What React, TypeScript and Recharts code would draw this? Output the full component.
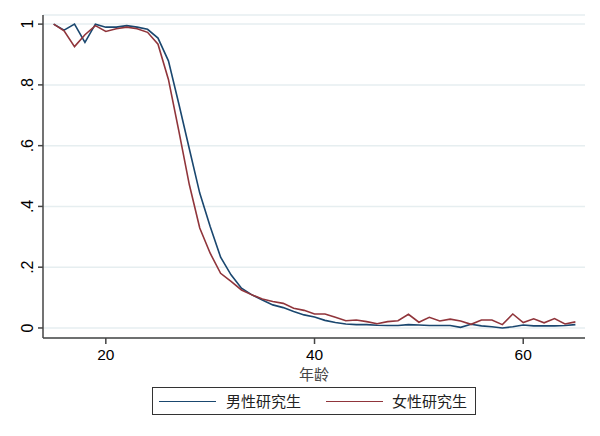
import React from "react";
import { LineChart, Line, XAxis, YAxis, CartesianGrid, Label } from "recharts";

// ages 15..65
const ages = [
  15, 16, 17, 18, 19, 20, 21, 22, 23, 24, 25, 26, 27, 28, 29, 30, 31, 32, 33, 34,
  35, 36, 37, 38, 39, 40, 41, 42, 43, 44, 45, 46, 47, 48, 49, 50, 51, 52, 53, 54,
  55, 56, 57, 58, 59, 60, 61, 62, 63, 64, 65,
];

const maleGrad = [
  1.0, 0.98, 1.0, 0.94, 1.0, 0.99, 0.99, 0.995, 0.99, 0.983, 0.954, 0.879, 0.737,
  0.59, 0.444, 0.334, 0.233, 0.175, 0.131, 0.109, 0.092, 0.076, 0.067, 0.054,
  0.043, 0.036, 0.025, 0.018, 0.013, 0.011, 0.011, 0.009, 0.008, 0.008, 0.011,
  0.01, 0.008, 0.008, 0.008, 0.002, 0.012, 0.007, 0.004, 0.0, 0.004, 0.01, 0.007,
  0.007, 0.007, 0.008, 0.011,
];

const femaleGrad = [
  1.0, 0.978, 0.926, 0.965, 0.995, 0.976, 0.985, 0.99, 0.985, 0.973, 0.934, 0.818,
  0.648, 0.472, 0.329, 0.246, 0.18, 0.153, 0.125, 0.109, 0.095, 0.087, 0.081,
  0.065, 0.058, 0.046, 0.046, 0.035, 0.024, 0.026, 0.021, 0.014, 0.021, 0.024,
  0.045, 0.019, 0.035, 0.023, 0.029, 0.023, 0.012, 0.026, 0.026, 0.011, 0.046,
  0.018, 0.03, 0.017, 0.031, 0.013, 0.02,
];

const xTicks = [20, 40, 60];
const yTicks = [0, 0.2, 0.4, 0.6, 0.8, 1];

const NAVY = "#1a476f";
const MAROON = "#90353b";

const data = ages.map((age, i) => ({ age, male: maleGrad[i], female: femaleGrad[i] }));

const fmtY = (v: number) => (v === 0 ? "0" : v === 1 ? "1" : String(v).replace(/^0/, ""));

// Stata-style rotated y tick labels
const YTick = (props: any) => {
  const { y, payload } = props;
  const x = 33;
  return (
    <text
      x={x}
      y={y}
      textAnchor="middle"
      transform={`rotate(-90 ${x} ${y})`}
      fontSize={16}
      fill="#000"
      fontFamily="'Liberation Sans', Arial, sans-serif"
    >
      {fmtY(payload.value)}
    </text>
  );
};

const AxisTitle = (props: any) => {
  const vb = props.viewBox;
  return (
    <text
      x={vb.x + vb.width / 2}
      y={vb.y + 42}
      textAnchor="middle"
      fontSize={15}
      fill="#444"
      fontFamily="'Noto Sans CJK SC', sans-serif"
    >
      年龄
    </text>
  );
};

const App = () => {
  return (
    <div
      style={{
        position: "absolute",
        left: 0,
        top: 0,
        width: 600,
        height: 436,
        background: "#fff",
        fontFamily: "'Liberation Sans', Arial, sans-serif",
      }}
    >
      <LineChart
        width={600}
        height={436}
        data={data}
        margin={{ top: 15, right: 15, left: 0, bottom: 68 }}
      >
        <CartesianGrid vertical={false} stroke="#e6eef0" strokeWidth={1.5} />
        <XAxis
          dataKey="age"
          type="number"
          domain={[13.98, 65.92]}
          allowDataOverflow
          ticks={xTicks}
          height={30}
          tickSize={6}
          tickMargin={5}
          stroke="#444"
          strokeWidth={1.5}
          tick={{ fill: "#000", fontSize: 15.5 }}
        >
          <Label content={<AxisTitle />} />
        </XAxis>
        <YAxis
          type="number"
          domain={[-0.033, 1.03]}
          allowDataOverflow
          ticks={yTicks}
          width={43}
          tickSize={5}
          stroke="#444"
          strokeWidth={1.5}
          tick={<YTick />}
        />
        <Line
          type="linear"
          dataKey="male"
          stroke={NAVY}
          strokeWidth={1.6}
          dot={false}
          isAnimationActive={false}
        />
        <Line
          type="linear"
          dataKey="female"
          stroke={MAROON}
          strokeWidth={1.6}
          dot={false}
          isAnimationActive={false}
        />
      </LineChart>
      <div
        style={{
          position: "absolute",
          left: 152,
          top: 387,
          width: 322,
          height: 26,
          border: "1px solid #333",
          display: "flex",
          alignItems: "center",
          fontFamily: "'Noto Sans CJK SC', sans-serif",
          fontSize: 15,
          color: "#222",
          letterSpacing: 0,
        }}
      >
        <div style={{ width: 57, height: 0, borderTop: `1.6px solid ${NAVY}`, marginLeft: 6 }} />
        <span style={{ marginLeft: 10, lineHeight: "26px" }}>男性研究生</span>
        <div style={{ width: 57, height: 0, borderTop: `1.6px solid ${MAROON}`, marginLeft: 25 }} />
        <span style={{ marginLeft: 9, lineHeight: "26px" }}>女性研究生</span>
      </div>
    </div>
  );
};

export default App;
